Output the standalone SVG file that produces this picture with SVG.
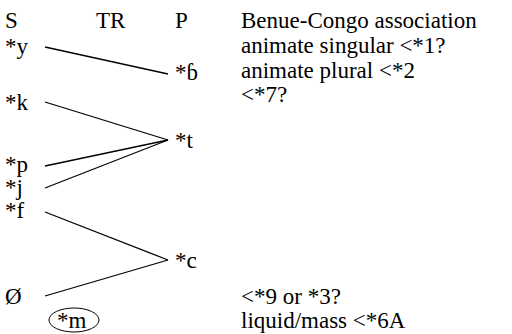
<svg xmlns="http://www.w3.org/2000/svg" width="512" height="334" viewBox="0 0 512 334" font-family="'Liberation Serif', 'DejaVu Serif', 'Times New Roman', serif">
<style>
text{font-family:'Liberation Serif','DejaVu Serif',serif;font-size:23px;fill:#000}
.c line{stroke:#000;stroke-width:1.3}
</style>
<rect width="512" height="334" fill="#fff"/>
<g id="header"><text x="5" y="28">S</text><text x="96" y="28">TR</text><text x="175" y="28">P</text></g>
<g id="n-y"><text x="5" y="54">*y</text></g>
<g id="n-b"><text x="175" y="80">*ɓ</text></g>
<g id="n-k"><text x="5" y="110">*k</text></g>
<g id="n-t"><text x="175" y="148">*t</text></g>
<g id="n-p"><text x="5" y="172">*p</text></g>
<g id="n-j"><text x="5" y="195">*j</text></g>
<g id="n-f"><text x="5" y="218">*f</text></g>
<g id="n-c"><text x="175" y="268">*c</text></g>
<g id="n-zero"><text x="5" y="304">Ø</text></g>
<g id="n-m"><ellipse cx="74" cy="320" rx="25" ry="12" fill="none" stroke="#000" stroke-width="1"/><text x="57" y="328">*m</text></g>
<g id="notes">
<text x="241" y="28">Benue-Congo association</text>
<text x="241" y="53">animate singular &lt;*1?</text>
<text x="241" y="78">animate plural &lt;*2</text>
<text x="241" y="102">&lt;*7?</text>
<text x="241" y="304">&lt;*9 or *3?</text>
<text x="241" y="328">liquid/mass &lt;*6A</text>
</g>
<g class="c" id="connectors">
<line x1="45" y1="47" x2="168" y2="74"/>
<line x1="45" y1="102" x2="168" y2="140"/>
<line x1="45" y1="166" x2="168" y2="140"/>
<line x1="45" y1="188" x2="168" y2="140"/>
<line x1="45" y1="212" x2="168" y2="260"/>
<line x1="45" y1="296" x2="168" y2="260"/>
</g>
</svg>
